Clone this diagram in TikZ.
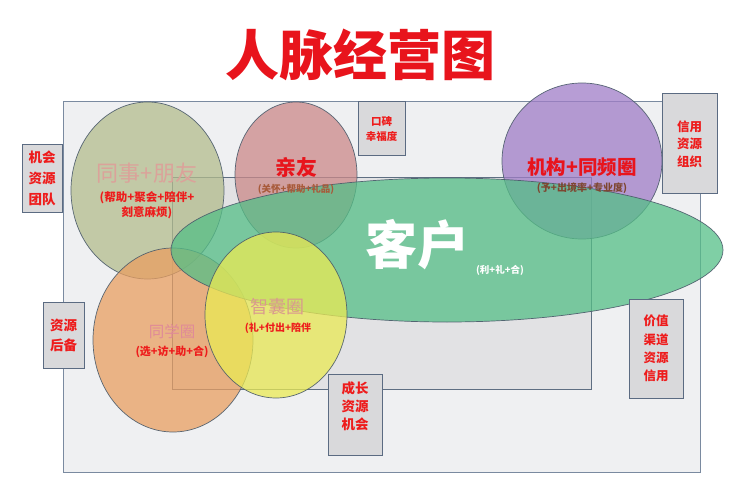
\documentclass[tikz,border=0pt]{standalone}
\usepackage{fontspec}
\setmainfont{Noto Sans CJK SC}
\usetikzlibrary{shapes.geometric}
\definecolor{outerfill}{HTML}{EFF0F2}
\definecolor{outerline}{HTML}{7A8AA0}
\definecolor{innerfill}{HTML}{E2E2E4}
\definecolor{innerline}{HTML}{5E6E82}
\definecolor{circline}{HTML}{4A5A6A}
\definecolor{boxfill}{HTML}{D9D9DB}
\definecolor{boxline}{HTML}{5B6B82}
\definecolor{boxred}{HTML}{EE1C1C}
\definecolor{titlered}{HTML}{E8141C}
\definecolor{cTongshi}{HTML}{B3BC8D}
\definecolor{cQinyou}{HTML}{CB8989}
\definecolor{cJigou}{HTML}{A07DC7}
\definecolor{cTongxue}{HTML}{E99F61}
\definecolor{cKehu}{HTML}{55BF87}
\definecolor{cZhinang}{HTML}{EAEA54}
\definecolor{fadepink}{HTML}{DBA29A}
\definecolor{fadepinkB}{HTML}{E08A98}
\definecolor{fadebrown}{HTML}{D99A8E}
\definecolor{subbrown}{HTML}{A85A3A}
\definecolor{subbrownB}{HTML}{7E4630}
\begin{document}
\begin{tikzpicture}[x=1pt,y=-1pt,
  box/.style={draw=boxline, fill=boxfill, line width=1pt, text=boxred, align=center, inner sep=0pt},
  circ/.style={ellipse, draw=circline, line width=0.7pt, fill opacity=0.75, draw opacity=0.9, inner sep=0pt},
  frame/.style={rectangle, inner sep=0pt, line width=0.9pt},
  lbl/.style={inner sep=0pt, align=center}
]
\useasboundingbox (0,0) rectangle (750,500);
\fill[white] (0,0) rectangle (750,500);

% title
\node[lbl, text=titlered, font=\bfseries\fontsize{54}{60}\selectfont] (title) at (360,55) {人脉经营图};

% frames
\node[frame, draw=outerline, fill=outerfill, minimum width=637pt, minimum height=371pt] (outer) at (381.5,286.5) {};
\node[frame, draw=innerline, fill=innerfill, minimum width=419pt, minimum height=212pt] (inner) at (381.5,283) {};

% circles
\node[circ, fill=cTongshi, minimum width=153pt, minimum height=177pt] (tongshi) at (147.5,190.5) {};
\node[circ, fill=cQinyou, minimum width=122pt, minimum height=146pt] (qinyou) at (296,175) {};
\node[circ, fill=cJigou, minimum width=160pt, minimum height=156pt] (jigou) at (582,161) {};
\node[circ, fill=cTongxue, minimum width=160pt, minimum height=184pt] (tongxue) at (173,340) {};
\node[circ, fill=cKehu, minimum width=552pt, minimum height=144pt] (kehu) at (447,250) {};
\node[circ, fill=cZhinang, minimum width=142pt, minimum height=166pt] (zhinang) at (276,315) {};

% circle texts
\node[lbl, text=fadepink, font=\fontsize{22}{26}\selectfont] (tsT) at (147,173) {同事+朋友};
\node[lbl, text=boxred, font=\bfseries\fontsize{11.5}{15}\selectfont] (tsS) at (147,205) {(帮助+聚会+陪伴+\\刻意麻烦)};
\node[lbl, text=titlered, font=\bfseries\fontsize{21}{24}\selectfont] (qyT) at (296,167) {亲友};
\node[lbl, text=subbrown, font=\bfseries\fontsize{9.5}{12}\selectfont] (qyS) at (296,189) {(关怀+帮助+礼品)};
\node[lbl, text=titlered, font=\bfseries\fontsize{19.5}{22}\selectfont] (jgT) at (582,167) {机构+同频圈};
\node[lbl, text=subbrownB, font=\bfseries\fontsize{10}{12}\selectfont] (jgS) at (582,188) {(予+出境率+专业度)};
\node[lbl, text=white, font=\bfseries\fontsize{52}{56}\selectfont] (khT) at (417,245) {客户};
\node[lbl, text=white, font=\bfseries\fontsize{9.5}{12}\selectfont] (khS) at (500,270) {(利+礼+合)};
\node[lbl, text=fadepinkB, font=\fontsize{15.5}{18}\selectfont] (txT) at (172,332) {同学圈};
\node[lbl, text=boxred, font=\bfseries\fontsize{11}{14}\selectfont] (txS) at (172,352) {(选+访+助+合)};
\node[lbl, text=fadebrown, font=\fontsize{18}{21}\selectfont] (znT) at (277,307) {智囊圈};
\node[lbl, text=boxred, font=\bfseries\fontsize{10}{12}\selectfont] (znS) at (278,328) {(礼+付出+陪伴};

% side boxes
\node[box, minimum width=40pt, minimum height=67pt, font=\bfseries\fontsize{13.5}{21}\selectfont] (b1) at (42,178.5) {机会\\资源\\团队};
\node[box, minimum width=41pt, minimum height=66pt, font=\bfseries\fontsize{13.5}{20}\selectfont] (b2) at (63.5,335) {资源\\后备};
\node[box, minimum width=47pt, minimum height=54pt, font=\bfseries\fontsize{10.5}{15}\selectfont] (b3) at (381.5,129) {口碑\\幸福度};
\node[box, minimum width=55pt, minimum height=100pt, font=\bfseries\fontsize{12.5}{17.5}\selectfont] (b4) at (689.5,144) {信用\\资源\\组织};
\node[box, minimum width=54pt, minimum height=99pt, font=\bfseries\fontsize{12.5}{18.3}\selectfont] (b5) at (656,348.5) {价值\\渠道\\资源\\信用};
\node[box, minimum width=54pt, minimum height=81pt] (b6) at (355,414.5) {};
\node[lbl, text=boxred, font=\bfseries\fontsize{13.5}{18}\selectfont] (b6T) at (355,406) {成长\\资源\\机会};
\end{tikzpicture}
\end{document}
